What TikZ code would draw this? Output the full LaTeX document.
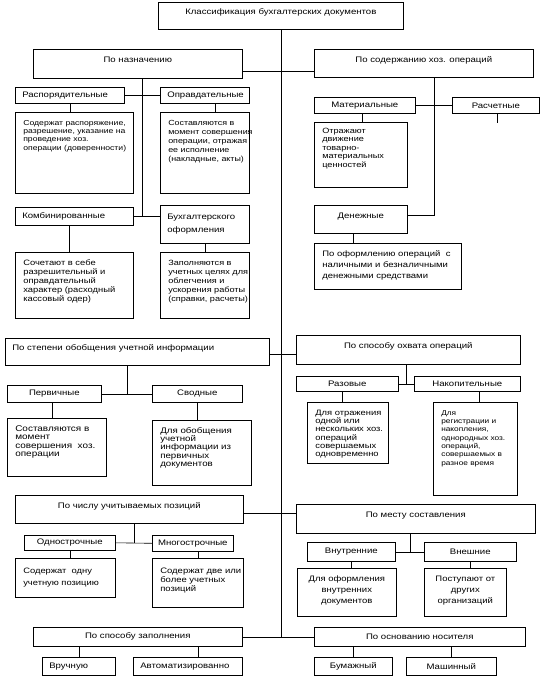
\documentclass[tikz,border=0pt]{standalone}
\usepackage{fontspec}
\setmainfont{Liberation Sans}[FakeStretch=1.2]
\usetikzlibrary{calc}

\tikzset{
    box/.style={draw, line width=0.6pt, anchor=north west, inner sep=0pt},
    head/.style 2 args={box, minimum width=#1, minimum height=#2},
    lhead/.style 2 args={box, text width=#1, minimum height=#2,
        inner xsep=7pt, align=left},
    up/.style={text height=6pt, text depth=8.5pt},
    desc/.style 2 args={box, text width=#1, text height=9pt, text depth=#2,
        inner xsep=8pt, inner ysep=4pt, align=left},
    link/.style={line width=0.6pt}
}

\begin{document}
\begin{tikzpicture}[
    x=1pt, y=-1pt,
    every node/.style={font=\fontsize{8}{9}\selectfont}
]
\useasboundingbox (0,0) rectangle (545,676);

% Root
\node[head={245pt}{27pt}, up] (title) at (158,2)
    {Классификация бухгалтерских документов};

% Top-level groups
\node[head={209pt}{29pt}, up] (naz) at (33,49) {По назначению};
\node[head={219pt}{28pt}, up] (sod) at (314,49) {По содержанию  хоз. операций};
\node[lhead={250pt}{27pt}, up] (stepen) at (5,338)
    {По степени  обобщения учетной  информации};
\node[head={224pt}{29pt}, up] (ohv) at (296,335) {По способу  охвата операций};
\node[head={228pt}{28pt}, up] (chis) at (15,495) {По числу учитываемых позиций};
\node[head={239pt}{29pt}, up] (mest) at (296,504) {По месту составления};
\node[head={209pt}{19pt}] (zap) at (33,627) {По способу  заполнения};
\node[head={211pt}{19pt}] (osn) at (314,627) {По основанию  носителя};

% По назначению
\node[lhead={95pt}{16pt}] (rasp) at (15,87) {Распорядительные};
\node[lhead={75pt}{16pt}] (opr) at (160,87) {Оправдательные};
\node[desc={102pt}{64pt}, font=\fontsize{7.2}{8.3}\selectfont] (d1) at (15,112)
    {Содержат~распоряжение,\\
    разрешение,~указание~на\\
    проведение~хоз.\\
    операции~(доверенности)};
\node[desc={73pt}{64pt}, font=\fontsize{7.4}{9}\selectfont] (d2) at (160,112)
    {Составляются~в\\
    момент~совершения\\
    операции,~отражая\\
    ее~исполнение\\
    (накладные,~акты)};
\node[lhead={104pt}{18pt}] (komb) at (15,207) {Комбинированные};
\node[lhead={75pt}{38pt}, font=\fontsize{8}{12.5}\selectfont] (buh) at (160,205)
    {Бухгалтерского\\оформления};
\node[desc={102pt}{49pt}, font=\fontsize{7.8}{9}\selectfont] (d3) at (15,252)
    {Сочетают~в~себе\\
    разрешительный~и\\
    оправдательный\\
    характер~(расходный\\
    кассовый~одер)};
\node[desc={73pt}{49pt}, font=\fontsize{7.6}{9}\selectfont] (d4) at (160,252)
    {Заполняются~в\\
    учетных~целях~для\\
    облегчения~и\\
    ускорения~работы\\
    (справки,~расчеты)};

% По содержанию
\node[head={101pt}{16pt}] (mat) at (314,97) {Материальные};
\node[head={87pt}{16pt}] (rasch) at (452,97) {Расчетные};
\node[desc={77pt}{50pt}, text height=7pt, font=\fontsize{7.6}{8.5}\selectfont]
    (d5) at (314,122)
    {Отражают\\
    движение\\
    товарно-\\
    материальных\\
    ценностей};
\node[head={93pt}{28pt}, up] (den) at (314,205) {Денежные};
\node[desc={131pt}{29pt}, font=\fontsize{7.9}{11}\selectfont] (d6) at (314,243)
    {По~оформлению~операций~~с\\
    наличными~и~безналичными\\
    денежными~средствами};

% По степени обобщения
\node[head={94pt}{17pt}] (perv) at (7,385) {Первичные};
\node[head={90pt}{17pt}] (svod) at (152,385) {Сводные};
\node[desc={83pt}{41pt}, font=\fontsize{8.3}{8.5}\selectfont] (d7) at (7,418)
    {Составляются~в\\
    момент\\
    совершения~~хоз.\\
    операции};
\node[desc={83pt}{48pt}, font=\fontsize{8.1}{8.3}\selectfont] (d8) at (152,420)
    {Для~обобщения\\
    учетной\\
    информации~из\\
    первичных\\
    документов};

% По способу охвата
\node[head={102pt}{15pt}] (raz) at (296,376) {Разовые};
\node[head={106pt}{15pt}] (nak) at (414,376) {Накопительные};
\node[desc={65pt}{44pt}, font=\fontsize{7.8}{8.3}\selectfont] (d9) at (307,402)
    {Для~отражения\\
    одной~или\\
    нескольких~хоз.\\
    операций\\
    совершаемых\\
    одновременно};
\node[desc={68pt}{76pt}, font=\fontsize{6.9}{8.3}\selectfont] (d10) at (433,402)
    {Для\\
    регистрации~и\\
    накопления,\\
    однородных~хоз.\\
    операций,\\
    совершаемых~в\\
    разное~время};

% По числу позиций
\node[head={91pt}{15pt}] (odn) at (24,535) {Однострочные};
\node[head={81pt}{16pt}] (mnog) at (152,535) {Многострочные};
\node[desc={84pt}{20pt}, text height=11pt, font=\fontsize{7.8}{12}\selectfont]
    (d11) at (15,558)
    {Содержат~~одну\\
    учетную~позицию};
\node[desc={75pt}{30pt}, text height=11pt, font=\fontsize{7.9}{9}\selectfont]
    (d12) at (152,558)
    {Содержат~две~или\\
    более~учетных\\
    позиций};

% По месту составления
\node[head={88pt}{19pt}] (vnut) at (307,542) {Внутренние};
\node[head={92pt}{19pt}] (vnesh) at (424,542) {Внешние};
\node[desc={83pt}{31pt}, align=center, font=\fontsize{7.9}{11}\selectfont]
    (d13) at (297,568)
    {Для оформления\\
    внутренних\\
    документов};
\node[desc={66pt}{31pt}, align=center, font=\fontsize{7.9}{11}\selectfont]
    (d14) at (424,568)
    {Поступают от\\
    других\\
    организаций};

% По способу заполнения / носителю
\node[lhead={59pt}{18pt}] (ruch) at (42,657) {Вручную};
\node[lhead={95pt}{18pt}] (avto) at (133,657) {Автоматизированно};
\node[head={78pt}{18pt}] (bum) at (314,657) {Бумажный};
\node[head={90pt}{18pt}] (mash) at (406,657) {Машинный};

% Fork points
\coordinate (j1) at (280,71);
\coordinate (j2) at (280,354);
\coordinate (j3) at (280,513);
\coordinate (nazfork) at ($(rasp.east)!.5!(opr.west)$);
\coordinate (sodfork) at (434,215);
\coordinate (stepfork) at ($(perv.east)!.5!(svod.west)$);
\coordinate (ohvfork) at ($(raz.east)!.5!(nak.west)$);
\coordinate (chisfork) at ($(odn.east)!.5!(mnog.west)$);
\coordinate (mestfork) at ($(vnut.east)!.5!(vnesh.west)$);

% Main trunk
\draw[link] (title.south) -- (title.south |- zap.east);
\draw[link] (naz.east |- j1) -- (sod.west |- j1);
\draw[link] (stepen.east |- j2) -- (ohv.west |- j2);
\draw[link] (chis.east |- j3) -- (mest.west |- j3);
\draw[link] (zap.east) -- (osn.west);

% По назначению branches
\draw[link] (nazfork |- naz.south) -- (nazfork |- komb.east);
\draw[link] (rasp.east) -- (opr.west);
\draw[link] (komb.east) -- (buh.west |- komb.east);
\draw[link] (rasp.south) -- (rasp.south |- d1.north);
\draw[link] ([xshift=10pt]opr.south) -- ([xshift=10pt]opr.south |- d2.north);
\draw[link] ([xshift=-5pt]komb.south) -- ([xshift=-5pt]komb.south |- d3.north);
\draw[link] (buh.south) -- (buh.south |- d4.north);

% По содержанию branches
\draw[link] (sodfork |- sod.south) -- (sodfork) -- (sodfork -| den.east);
\draw[link] (mat.east) -- (rasch.west);
\draw[link] ([xshift=-3pt]mat.south) -- ([xshift=-3pt]mat.south |- d5.north);
\draw[link] ([xshift=1pt]rasch.south) -- ++(0,9);
\draw[link] ([xshift=-8pt]den.south) -- ([xshift=-8pt]den.south |- d6.north);

% По степени обобщения branches
\draw[link] (stepfork |- stepen.south) -- (stepfork);
\draw[link] (perv.east) -- (svod.west);
\draw[link] ([xshift=-2pt]perv.south) -- ([xshift=-2pt]perv.south |- d7.north);
\draw[link] (svod.south) -- (svod.south |- d8.north);

% По способу охвата branches
\draw[link] (ohvfork |- ohv.south) -- (ohvfork);
\draw[link] (raz.east) -- (nak.west);
\draw[link] ([xshift=-5pt]raz.south) -- ([xshift=-5pt]raz.south |- d9.north);
\draw[link] ([xshift=12pt]nak.south) -- ([xshift=12pt]nak.south |- d10.north);

% По числу позиций branches
\draw[link] (chisfork |- chis.south) -- (chisfork);
\draw[link] (odn.east) -- (mnog.west);
\draw[link] (odn.south) -- (odn.south |- d11.north);
\draw[link] ([xshift=5pt]mnog.south) -- ([xshift=5pt]mnog.south |- d12.north);

% По месту составления branches
\draw[link] (mestfork |- mest.south) -- (mestfork);
\draw[link] (vnut.east) -- (vnesh.west);
\draw[link] (vnut.south) -- (vnut.south |- d13.north);
\draw[link] (vnesh.south) -- (vnesh.south |- d14.north);

% Заполнение / носитель branches
\draw[link] (ruch.north |- zap.south) -- (ruch.north);
\draw[link] ([xshift=10pt]avto.north |- zap.south) -- ([xshift=10pt]avto.north);
\draw[link] (bum.north |- osn.south) -- (bum.north);
\draw[link] (mash.north |- osn.south) -- (mash.north);

\end{tikzpicture}
\end{document}
